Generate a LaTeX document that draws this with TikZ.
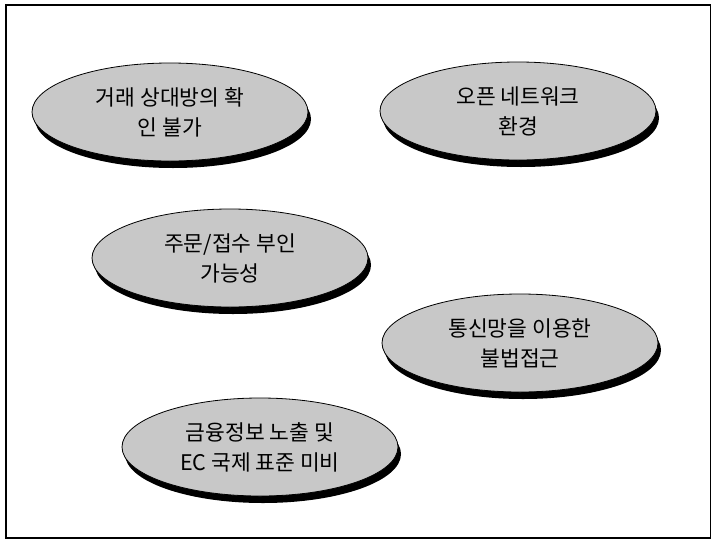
\documentclass[tikz,border=0pt]{standalone}
\usepackage{fontspec}
\usepackage{xcolor}
\usepackage{tikz}
\usetikzlibrary{shapes.geometric,shadows}
\newfontfamily\kofont{Noto Sans CJK KR}
\definecolor{bubblefill}{HTML}{C8C8C8}

\begin{document}
\begin{tikzpicture}[x=1pt, y=-1pt,
    bubble/.style={ellipse, draw, thick, fill=bubblefill, align=center,
      minimum width=276pt, minimum height=98pt, inner sep=0pt,
      font=\kofont\fontsize{21.5}{30}\selectfont,
      drop shadow={shadow xshift=3pt, shadow yshift=-7pt, fill=black, opacity=1}},
    frame/.style={draw, line width=1.5pt}
  ]
  \path[use as bounding box] (0,0) rectangle (712,541);
  % outer frame
  \draw[frame] (6,5) rectangle (710.5,538);

  % upper row
  \node[bubble] (partner) at (170,112) {거래 상대방의 확\\인 불가};
  \node[bubble] (network) at (518,111) {오픈 네트워크\\환경};

  % middle
  \node[bubble] (repudiate) at (230,258) {주문/접수 부인\\가능성};
  \node[bubble] (access) at (520,343) {통신망을 이용한\\불법접근};

  % bottom
  \node[bubble] (exposure) at (260,447) {금융정보 노출 및\\EC 국제 표준 미비};
\end{tikzpicture}
\end{document}
